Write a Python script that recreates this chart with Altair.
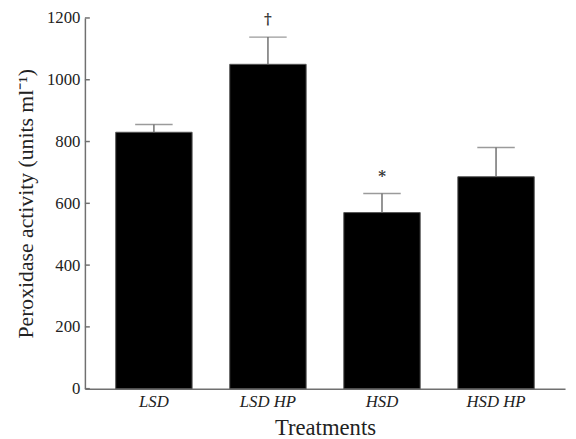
import altair as alt
import pandas as pd

treatments = ["LSD", "LSD HP", "HSD", "HSD HP"]
means = [830, 1050, 570, 686]
err_top = [855, 1138, 632, 781]
marks = ["", "†", "*", ""]
mark_y = [0, 1196, 688, 0]
y_ticks = [0, 200, 400, 600, 800, 1000, 1200]

df = pd.DataFrame({"t": treatments, "m": means, "e": err_top})
ann = pd.DataFrame({"t": treatments, "lab": marks, "y": mark_y})
ann = ann[ann["lab"] != ""]
ticks = pd.DataFrame({"v": y_ticks})

FONT = "Liberation Serif"
GREY = "#707070"

x_enc = alt.X("t:N", sort=treatments, title="Treatments",
              scale=alt.Scale(paddingInner=0.33, paddingOuter=0.27),
              axis=alt.Axis(labelAngle=0, labelFontStyle="italic", labelFont=FONT,
                            labelFontSize=17, labelColor="#222", ticks=False,
                            domainColor=GREY, domainWidth=1.5, labelPadding=5,
                            titleFont=FONT, titleFontSize=23, titleFontWeight="normal",
                            titleColor="#222", titlePadding=7))
y_scale = alt.Scale(domain=[0, 1200], nice=False)

bars = alt.Chart(df).mark_bar(color="black", stroke="#555", strokeWidth=1).encode(
    x=x_enc,
    y=alt.Y("m:Q", scale=y_scale, title="Peroxidase activity (units ml⁻¹)",
            axis=alt.Axis(values=y_ticks, format="d", ticks=False, grid=False, labelFont=FONT,
                          labelFontSize=17, labelColor="#222", domainColor=GREY,
                          domainWidth=1.5, labelPadding=5,
                          titleFont=FONT, titleFontSize=22, titleFontWeight="normal",
                          titleColor="#222", titlePadding=9)),
)

err = alt.Chart(df).mark_rule(color=GREY, strokeWidth=1.5).encode(
    x=alt.X("t:N", sort=treatments), y=alt.Y("m:Q", scale=y_scale), y2="e:Q")
caps = alt.Chart(df).mark_tick(color=GREY, orient="horizontal", size=38, thickness=1.5).encode(
    x=alt.X("t:N", sort=treatments), y=alt.Y("e:Q", scale=y_scale))

text = alt.Chart(ann).mark_text(font="DejaVu Serif", fontSize=15, fontWeight="bold",
                                color="#333", baseline="middle").encode(
    x=alt.X("t:N", sort=treatments), y=alt.Y("y:Q", scale=y_scale), text="lab:N")

tickmarks = alt.Chart(ticks).mark_rule(color=GREY, strokeWidth=1.5).encode(
    x=alt.value(0), x2=alt.value(5), y=alt.Y("v:Q", scale=y_scale))

chart = alt.layer(bars, err, caps, text, tickmarks).properties(
    width=487, height=376,
    autosize=alt.AutoSizeParams(type="none"),
    padding={"left": 78, "top": 7, "right": 3, "bottom": 52},
).configure_view(stroke=None).configure_axis(grid=False)

chart.save("out.html", embed_options={"renderer": "svg", "actions": False})
